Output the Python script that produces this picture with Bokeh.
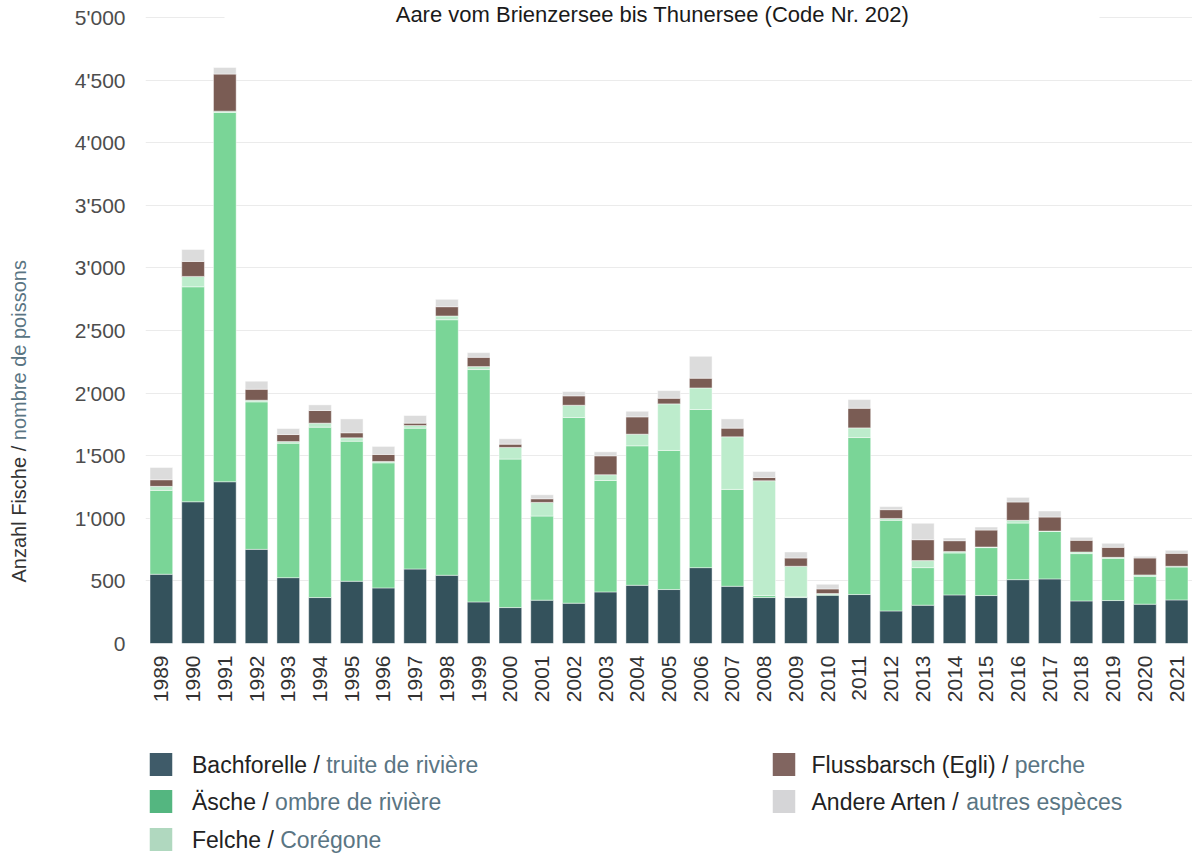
import math
from bokeh.plotting import figure
from bokeh.models import (FactorRange, Range1d, FixedTicker, Label, BoxAnnotation)
from bokeh.layouts import column, row
from bokeh.core.properties import value
from bokeh.embed import file_html
from bokeh.resources import INLINE

# ---------------- data ----------------
years = [str(y) for y in range(1989, 2022)]
bachforelle = [553, 1132, 1292, 752, 526, 367, 497, 444, 595, 545, 332, 287, 346, 322, 412, 465, 431,
               606, 457, 367, 367, 385, 391, 260, 306, 388, 383, 510, 516, 340, 343, 314, 348]
aesche = [670, 1717, 2950, 1178, 1074, 1361, 1119, 999, 1125, 2041, 1856, 1186, 672, 1483, 890, 1114, 1111,
          1263, 774, 16, 5, 8, 1254, 724, 300, 335, 383, 452, 380, 378, 337, 223, 263]
felche = [32, 83, 10, 13, 13, 32, 27, 11, 21, 30, 24, 93, 109, 98, 46, 93, 372,
          172, 420, 917, 245, 6, 77, 15, 56, 11, 5, 22, 2, 13, 8, 11, 6]
egli = [53, 120, 296, 88, 56, 101, 40, 56, 19, 74, 74, 26, 29, 75, 151, 138, 45,
        78, 69, 26, 66, 37, 157, 70, 167, 87, 135, 146, 112, 93, 80, 135, 103]
andere = [98, 95, 53, 64, 48, 45, 111, 64, 61, 59, 37, 43, 32, 34, 32, 45, 61,
          175, 74, 48, 48, 37, 69, 24, 131, 22, 24, 37, 48, 24, 32, 13, 24]

series_keys = ["bach", "aesche", "felche", "egli", "andere"]
bar_colors = ["#34525c", "#7ad597", "#bdeccc", "#7a5c54", "#dcdcdc"]
legend_colors = ["#3f5b69", "#54b680", "#b0d8bf", "#816560", "#d5d5d7"]
legend_de = ["Bachforelle / ", "Äsche / ", "Felche / ", "Flussbarsch (Egli) / ", "Andere Arten / "]
legend_fr = ["truite de rivière", "ombre de rivière", "Corégone", "perche", "autres espèces"]

y_ticks = [0, 500, 1000, 1500, 2000, 2500, 3000, 3500, 4000, 4500, 5000]
y_tick_labels = ["0", "500", "1'000", "1'500", "2'000", "2'500", "3'000", "3'500", "4'000", "4'500", "5'000"]

title_text = "Aare vom Brienzersee bis Thunersee (Code Nr. 202)"
ylabel_de = "Anzahl Fische / "
ylabel_fr = "nombre de poissons"

FONT = "Liberation Sans"
DARK = "#222222"
SLATE = "#5a7583"

# Arial / Liberation Sans advance widths (per 1000 em)
W = {' ': 278, '/': 278, '(': 333, ')': 333, '.': 278, "'": 191, 'A': 667, 'B': 667, 'C': 722,
     'E': 667, 'F': 611, 'N': 722, 'T': 611, 'Ä': 667, 'a': 556, 'b': 556, 'c': 500, 'd': 556,
     'e': 556, 'è': 556, 'é': 556, 'f': 278, 'g': 556, 'h': 556, 'i': 222, 'l': 222, 'm': 833,
     'n': 556, 'o': 556, 'p': 556, 'r': 333, 's': 500, 't': 278, 'u': 556, 'v': 500, 'z': 500}


def text_width(s, size):
    return sum(W.get(ch, 556) for ch in s) / 1000.0 * size


# ---------------- geometry (page pixels) ----------------
PAGE_W = 1192
PAGE_H = 856
YLAB_W = 36
FRAME_LEFT = 145          # page x of plot frame's left edge
GRID_TOP = 17             # page y of the 5'000 grid line
ZERO_Y = 643              # page y of the 0 baseline
BORDER_B = 70
FIG_H = ZERO_Y + BORDER_B
Y_MAX = 5000
units_per_px = Y_MAX / (ZERO_Y - GRID_TOP)
Y_TOP = Y_MAX + GRID_TOP * units_per_px   # frame reaches the top of the page

# ---------------- main chart ----------------
data = dict(years=years, bach=bachforelle, aesche=aesche, felche=felche, egli=egli, andere=andere)

p = figure(x_range=FactorRange(*years), y_range=Range1d(0, Y_TOP),
           width=PAGE_W - YLAB_W, height=FIG_H, output_backend="svg", toolbar_location=None,
           min_border_left=FRAME_LEFT - YLAB_W, min_border_right=0, min_border_top=0,
           min_border_bottom=BORDER_B)
p.outline_line_color = None
p.background_fill_color = "white"
p.border_fill_color = "white"

p.vbar_stack(series_keys, x="years", width=0.715, color=bar_colors, source=data,
             line_color="white", line_alpha=0.45, line_width=1)

p.xgrid.grid_line_color = None
p.ygrid.grid_line_color = "#ebebeb"
p.ygrid.grid_line_width = 1

p.yaxis.ticker = FixedTicker(ticks=y_ticks)
p.yaxis.major_label_overrides = {t: lab for t, lab in zip(y_ticks, y_tick_labels)}
for ax in (p.xaxis[0], p.yaxis[0]):
    ax.axis_line_color = None
    ax.major_tick_line_color = None
    ax.minor_tick_line_color = None
    ax.major_tick_out = 0
    ax.major_tick_in = 0
    ax.minor_tick_out = 0
    ax.major_label_text_font = FONT
    ax.major_label_text_font_size = "21px"
p.yaxis.major_label_standoff = 20
p.yaxis.major_label_text_color = "#4d4d4d"
p.xaxis.major_label_standoff = 12
p.xaxis.major_label_text_color = "#333333"
p.xaxis.major_label_orientation = math.pi / 2
p.xaxis.group_text_font_size = "0px"

# title inside the chart, on a white strip hiding the top grid line
# ("screen" x units are measured from the plot frame's left edge)
cover = BoxAnnotation(left=224 - FRAME_LEFT, right=1099 - FRAME_LEFT, left_units="screen",
                      right_units="screen", bottom=Y_MAX - 60, top=Y_TOP,
                      fill_color="white", fill_alpha=1.0, line_color=None)
p.add_layout(cover)
p.add_layout(Label(x=652 - FRAME_LEFT, x_units="screen", y=Y_MAX + 3 * units_per_px, y_units="data",
                   text=title_text, text_align="center", text_baseline="middle",
                   text_font=FONT, text_font_size="22px", text_color="#1a1a1a"))

# ---------------- y-axis title panel (two colours) ----------------
# its frame is aligned by the row with the chart frame (page y 0 .. ZERO_Y)
YL_SIZE = 20
ylab = figure(x_range=Range1d(0, YLAB_W), y_range=Range1d(0, ZERO_Y), width=YLAB_W, height=FIG_H,
              output_backend="svg", toolbar_location=None, x_axis_type=None, y_axis_type=None,
              min_border=0, min_border_left=0, min_border_right=0, min_border_top=0,
              min_border_bottom=BORDER_B)
ylab.outline_line_color = None
ylab.xgrid.visible = False
ylab.ygrid.visible = False
y0 = ZERO_Y - 582
ylab.text(x=[18, 18], y=[y0, y0 + text_width(ylabel_de, YL_SIZE)], text=[ylabel_de, ylabel_fr],
          angle=math.pi / 2, text_align="left", text_baseline="middle",
          text_font=value(FONT), text_font_size=value(f"{YL_SIZE}px"),
          text_color=["#333333", SLATE])

# ---------------- legend panel ----------------
LEG_H = PAGE_H - FIG_H
leg = figure(x_range=Range1d(0, PAGE_W), y_range=Range1d(LEG_H, 0), width=PAGE_W, height=LEG_H,
             output_backend="svg", toolbar_location=None, x_axis_type=None, y_axis_type=None,
             min_border=0, min_border_left=0, min_border_right=0, min_border_top=0,
             min_border_bottom=0)
leg.outline_line_color = None
leg.xgrid.visible = False
leg.ygrid.visible = False

LEG_SIZE = 23
col_sq_x = [160.5, 160.5, 160.5, 783.5, 783.5]
col_tx_x = [191.5, 191.5, 191.5, 811.0, 811.0]
row_y = [51, 88, 126, 51, 88]
leg.rect(x=col_sq_x, y=row_y, width=22.5, height=23, fill_color=legend_colors, line_color=None)
leg.text(x=col_tx_x, y=row_y, text=legend_de, text_align="left", text_baseline="middle",
         text_font=value(FONT), text_font_size=value(f"{LEG_SIZE}px"), text_color=DARK)
fr_x = [x0 + text_width(s, LEG_SIZE) for x0, s in zip(col_tx_x, legend_de)]
leg.text(x=fr_x, y=row_y, text=legend_fr, text_align="left", text_baseline="middle",
         text_font=value(FONT), text_font_size=value(f"{LEG_SIZE}px"), text_color=SLATE)

layout = column(row(ylab, p, spacing=0), leg, spacing=0)
open("out.html", "w").write(file_html(layout, INLINE))
